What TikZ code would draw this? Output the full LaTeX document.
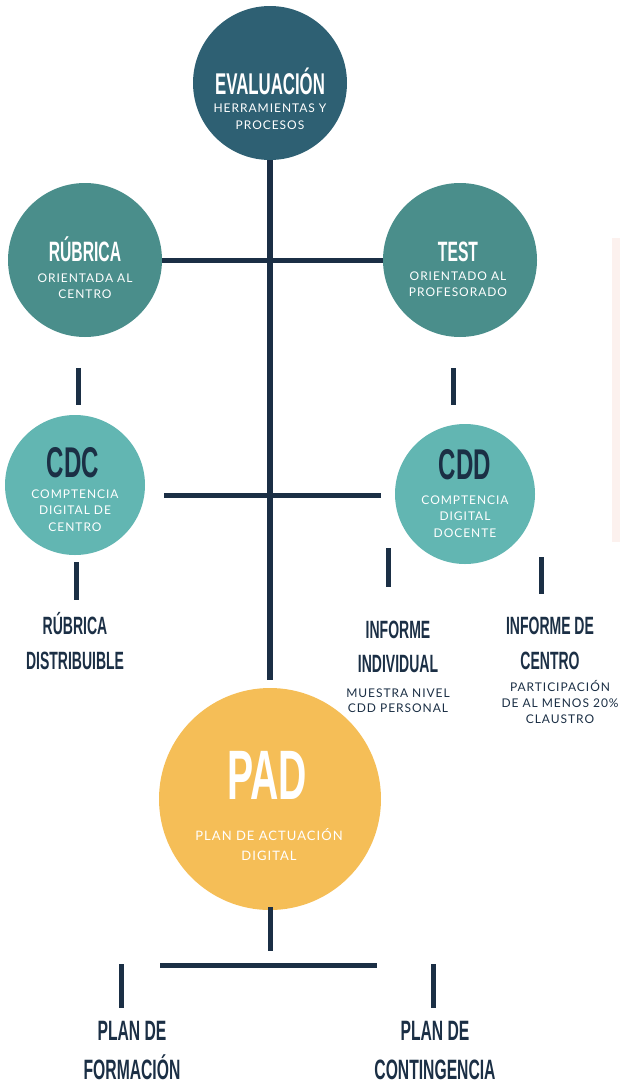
\documentclass[tikz,border=0pt]{standalone}
\usepackage{fontspec}
\setmainfont{Lato}
\newfontfamily\bebas[FakeStretch=0.56]{Liberation Sans}
\newfontfamily\lato[LetterSpace=8]{Lato}
\usetikzlibrary{positioning,calc}

\definecolor{navy}{HTML}{1B2F45}
\definecolor{petrol}{HTML}{2E6073}
\definecolor{sea}{HTML}{4A8E8B}
\definecolor{aqua}{HTML}{62B6B2}
\definecolor{mustard}{HTML}{F5BE57}
\definecolor{blush}{HTML}{FCF1EE}

\tikzset{
  bubble/.style={circle, inner sep=0pt, minimum size=#1},
  link/.style={draw=navy, line width=5pt},
  caps/.style 2 args={inner sep=0pt, align=center, font=\bebas\bfseries\fontsize{#1}{#2}\selectfont},
  note/.style 2 args={inner sep=0pt, align=center, font=\lato\fontsize{#1}{#2}\selectfont}
}

\begin{document}
\begin{tikzpicture}[x=1pt, y=-1pt]
\path [use as bounding box] (0,0) rectangle (620,1084);

% circles
\node [bubble=154, fill=petrol] (eval) at (270,83) {};
\node [bubble=154, fill=sea] (rubrica) at (85,260) {};
\node [bubble=154, fill=sea] (test) at (460,260) {};
\node [bubble=140, fill=aqua] (cdc) at (75,485) {};
\node [bubble=140, fill=aqua] (cdd) at (465,494) {};
\node [bubble=222, fill=mustard] (pad) at (270,799) {};

\fill [blush] (612,238) rectangle (620,542);

% connectors
\draw [link, line width=6pt] (eval.south) -- ($(pad.north)+(0,-8)$);
\draw [link] (rubrica.east) -- (test.west);
\draw [link] ($(cdc.north)+(3,-47)$) -- ($(cdc.north)+(3,-10)$);
\draw [link] ($(test.south)+(-7,31)$) -- ($(test.south)+(-7,68)$);
\draw [link] ($(cdc.east)+(19,10)$) -- ($(cdd.west)+(-14,1)$);
\draw [link] ($(cdc.south)+(1,7)$) -- ($(cdc.south)+(1,45)$);
\draw [link] ($(cdd.south)+(-77,-16)$) -- ($(cdd.south)+(-77,23)$);
\draw [link] ($(cdd.south)+(76,-7)$) -- ($(cdd.south)+(76,30)$);
\draw [link] ($(pad.south)+(0,-3)$) -- ($(pad.south)+(0,41)$);
\draw [link] ($(pad.south)+(-110,55)$) -- ($(pad.south)+(107,55)$);

\foreach \dx in {-149,163}
  \draw [link] ($(pad.south)+(\dx,54)$) -- ($(pad.south)+(\dx,98)$);

% texts in circles
\node [caps={30}{30}, text=white, anchor=base] (eval-t) at (270,94) {EVALUACIÓN};
\node [note={12}{17}, text=white] (eval-s) at (270,116.5) {HERRAMIENTAS Y\\PROCESOS};

\node [caps={28}{28}, text=white, anchor=base] (rubrica-t) at (85,261) {RÚBRICA};
\node [note={12}{16}, text=white] (rubrica-s) at (85,286) {ORIENTADA AL\\CENTRO};

\node [caps={28}{28}, text=white, anchor=base] (test-t) at (458,261) {TEST};
\node [note={12}{16}, text=white] (test-s) at (458,284.5) {ORIENTADO AL\\PROFESORADO};

\node [caps={43}{43}, text=navy, anchor=base] (cdc-t) at (73,477.5) {CDC};
\node [note={12}{16.5}, text=white] (cdc-s) at (75,510.5) {COMPTENCIA\\DIGITAL DE\\CENTRO};

\node [caps={43}{43}, text=navy, anchor=base] (cdd-t) at (465,479.5) {CDD};
\node [note={12}{16.5}, text=white] (cdd-s) at (465,516.5) {COMPTENCIA\\DIGITAL\\DOCENTE};

\node [caps={70}{70}, text=white, anchor=base] (pad-t) at (267,799) {PAD};
\node [note={13}{20}, text=white] (pad-s) at (269,844.5) {PLAN DE ACTUACIÓN\\DIGITAL};

% labels
\node [caps={25}{35}, text=navy] (distrib) at (75,641) {RÚBRICA\\DISTRIBUIBLE};
\node [caps={25}{34}, text=navy] (informe-ind) at (398,647) {INFORME\\INDIVIDUAL};
\node [note={12}{15}, text=navy] (informe-ind-s) at (398,700.5) {MUESTRA NIVEL\\CDD PERSONAL};
\node [caps={25}{35}, text=navy] (informe-cen) at (550,643.5) {INFORME DE\\CENTRO};
\node [note={12}{16}, text=navy] (informe-cen-s) at (560,702) {PARTICIPACIÓN\\DE AL MENOS 20\%\\CLAUSTRO};

\node [caps={28}{39}, text=navy] (formacion) at (132,1050.5) {PLAN DE\\FORMACIÓN};
\node [caps={28}{39}, text=navy] (contingencia) at (435,1050.5) {PLAN DE\\CONTINGENCIA};

\end{tikzpicture}
\end{document}
